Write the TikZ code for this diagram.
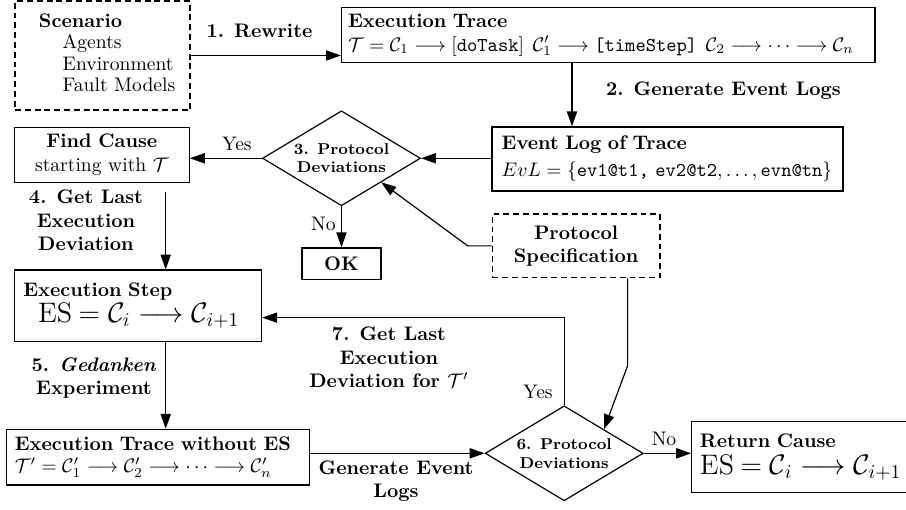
\documentclass[tikz,border=0pt]{standalone}
\usepackage{amsmath,amssymb}
\usepackage{tikz}
\usetikzlibrary{calc,positioning,arrows.meta,shapes.geometric}

\begin{document}
\begin{tikzpicture}[semithick,
    box/.style={draw, rectangle, align=left},
    dashbox/.style={box, dash pattern=on 3pt off 2pt},
    decision/.style={draw, diamond, aspect=1.66, inner sep=0pt, align=center,
      minimum width=2.833cm, minimum height=1.703cm, font=\footnotesize\bfseries},
    lbl/.style={align=center, font=\bfseries},
    arr/.style={-{Triangle[length=7.6pt,width=5.2pt]}}]
  \useasboundingbox (0,0) rectangle (16.245,-9.127);
  \coordinate (lane) at (2.971,0);
  \coordinate (logx) at (10.256,0);

  \node[dashbox, text width=82.6pt, text depth=36pt, minimum height=55.6pt] (scen) at (1.838,-0.995)
    {\hspace*{8.9pt}\textbf{Scenario}\\[-1pt] \hspace*{21pt}Agents\\[-1pt]
     \hspace*{21pt}Environment\\[-1pt] \hspace*{21pt}Fault Models};
  \node[box, text width=265.5pt] (trace) at (10.906,-0.628)
    {\textbf{Execution Trace}\\
     $\mathcal{T} = \mathcal{C}_1 \longrightarrow [\texttt{doTask}]\;\, \mathcal{C}_1' \longrightarrow \texttt{[timeStep]}\;\, \mathcal{C}_2 \longrightarrow \cdots \longrightarrow \mathcal{C}_n$};
  \node[box, inner xsep=5pt, text width=169.1pt, minimum height=32.7pt] (evlog) at (11.968,-2.851)
    {\textbf{Event Log of Trace}\\[1.8pt]
     $EvL = \{\texttt{ev1@t1, ev2@t2}, \ldots, \texttt{evn@tn}\}$};
  \node[decision] (d3) at (6.123,-2.838) {3. Protocol\\ Deviations};
  \node[box, align=center, text width=82.6pt, minimum height=28.1pt] (findc) at (1.825,-2.776)
    {\textbf{Find Cause}\\ starting with $\mathcal{T}$};
  \node[box, align=center, minimum width=40.3pt, minimum height=16.1pt, font=\bfseries,
    below=0.735cm of d3] (ok) {OK};
  \node[dashbox, align=center, text width=78.9pt, minimum height=32.5pt, font=\bfseries]
    (spec) at (10.331,-4.409) {Protocol\\ Specification};
  \node[box, inner xsep=4.6pt, text width=117pt, minimum height=36.6pt] (estep) at (2.474,-5.485)
    {\textbf{Execution Step}\\ \hspace*{7.5pt}\Large ES $= \mathcal{C}_i \longrightarrow \mathcal{C}_{i+1}$};
  \node[box, inner xsep=4.2pt, text width=146pt, minimum height=28.4pt] (ntrace) at (2.833,-8.198)
    {\textbf{Execution Trace without ES}\\[-0.6pt]
     $\mathcal{T}' = \mathcal{C}_1' \longrightarrow \mathcal{C}_2' \longrightarrow \cdots \longrightarrow \mathcal{C}_n'$};
  \node[decision] (d6) at (10.116,-8.128) {6. Protocol\\ Deviations};
  \node[box, inner xsep=4.2pt, text width=125pt, minimum height=36.2pt] (ret) at (14.747,-8.198)
    {\textbf{Return Cause}\\[1.8pt] {\Large ES $= \mathcal{C}_i \longrightarrow \mathcal{C}_{i+1}$}};

  % labels
  \node[lbl] (lrew) at (4.653,-0.559) {1. Rewrite};
  \node[lbl] (lgen) at (12.972,-1.619) {2. Generate Event Logs};
  \node (lyes1) at (4.249,-2.573) {Yes};
  \node (lno1) at (5.800,-4.007) {No};
  \node[lbl] (lget) at (1.542,-3.952) {4. Get Last\\ Execution\\ Deviation};
  \node[lbl] (lged) at (1.685,-6.778) {5. \textit{Gedanken}\\ Experiment};
  \node[lbl] (lget2) at (6.975,-6.410) {7. Get Last\\ Execution\\ Deviation for $\mathcal{T}'$};
  \node (lyes2) at (9.646,-7.025) {Yes};
  \node[lbl] (lgen2) at (7.100,-8.624) {Generate Event\\ Logs};
  \node (lno2) at (11.906,-7.862) {No};

  \draw[arr] (scen.east) -- (scen.east -| trace.west);
  \draw[arr] (trace.south -| logx) -- (evlog.north -| logx);
  \draw[arr] (d3.east -| evlog.west) -- (d3.east);
  \draw[arr] (d3.west) -- (d3.west -| findc.east);
  \draw[arr] (d3.south) -- (ok.north);
  \draw[arr, shorten <=4.8pt] (findc.south -| lane) -- (estep.north -| lane);
  \draw[arr] (spec.west) -- ++(-0.43,0) -- (d3.south east);
  \draw[arr] ([xshift=0.923cm]spec.south) -- ++(0,-1.565) -- (d6.north east);
  \draw[arr] (estep.south -| lane) -- (ntrace.north -| lane);
  \draw[arr] (d6.north) |- ([yshift=-0.21cm]estep.east);
  \draw[arr] (ntrace.east |- d6.west) -- (d6.west);
  \draw[arr] (d6.east) -- (d6.east -| ret.west);
\end{tikzpicture}
\end{document}
